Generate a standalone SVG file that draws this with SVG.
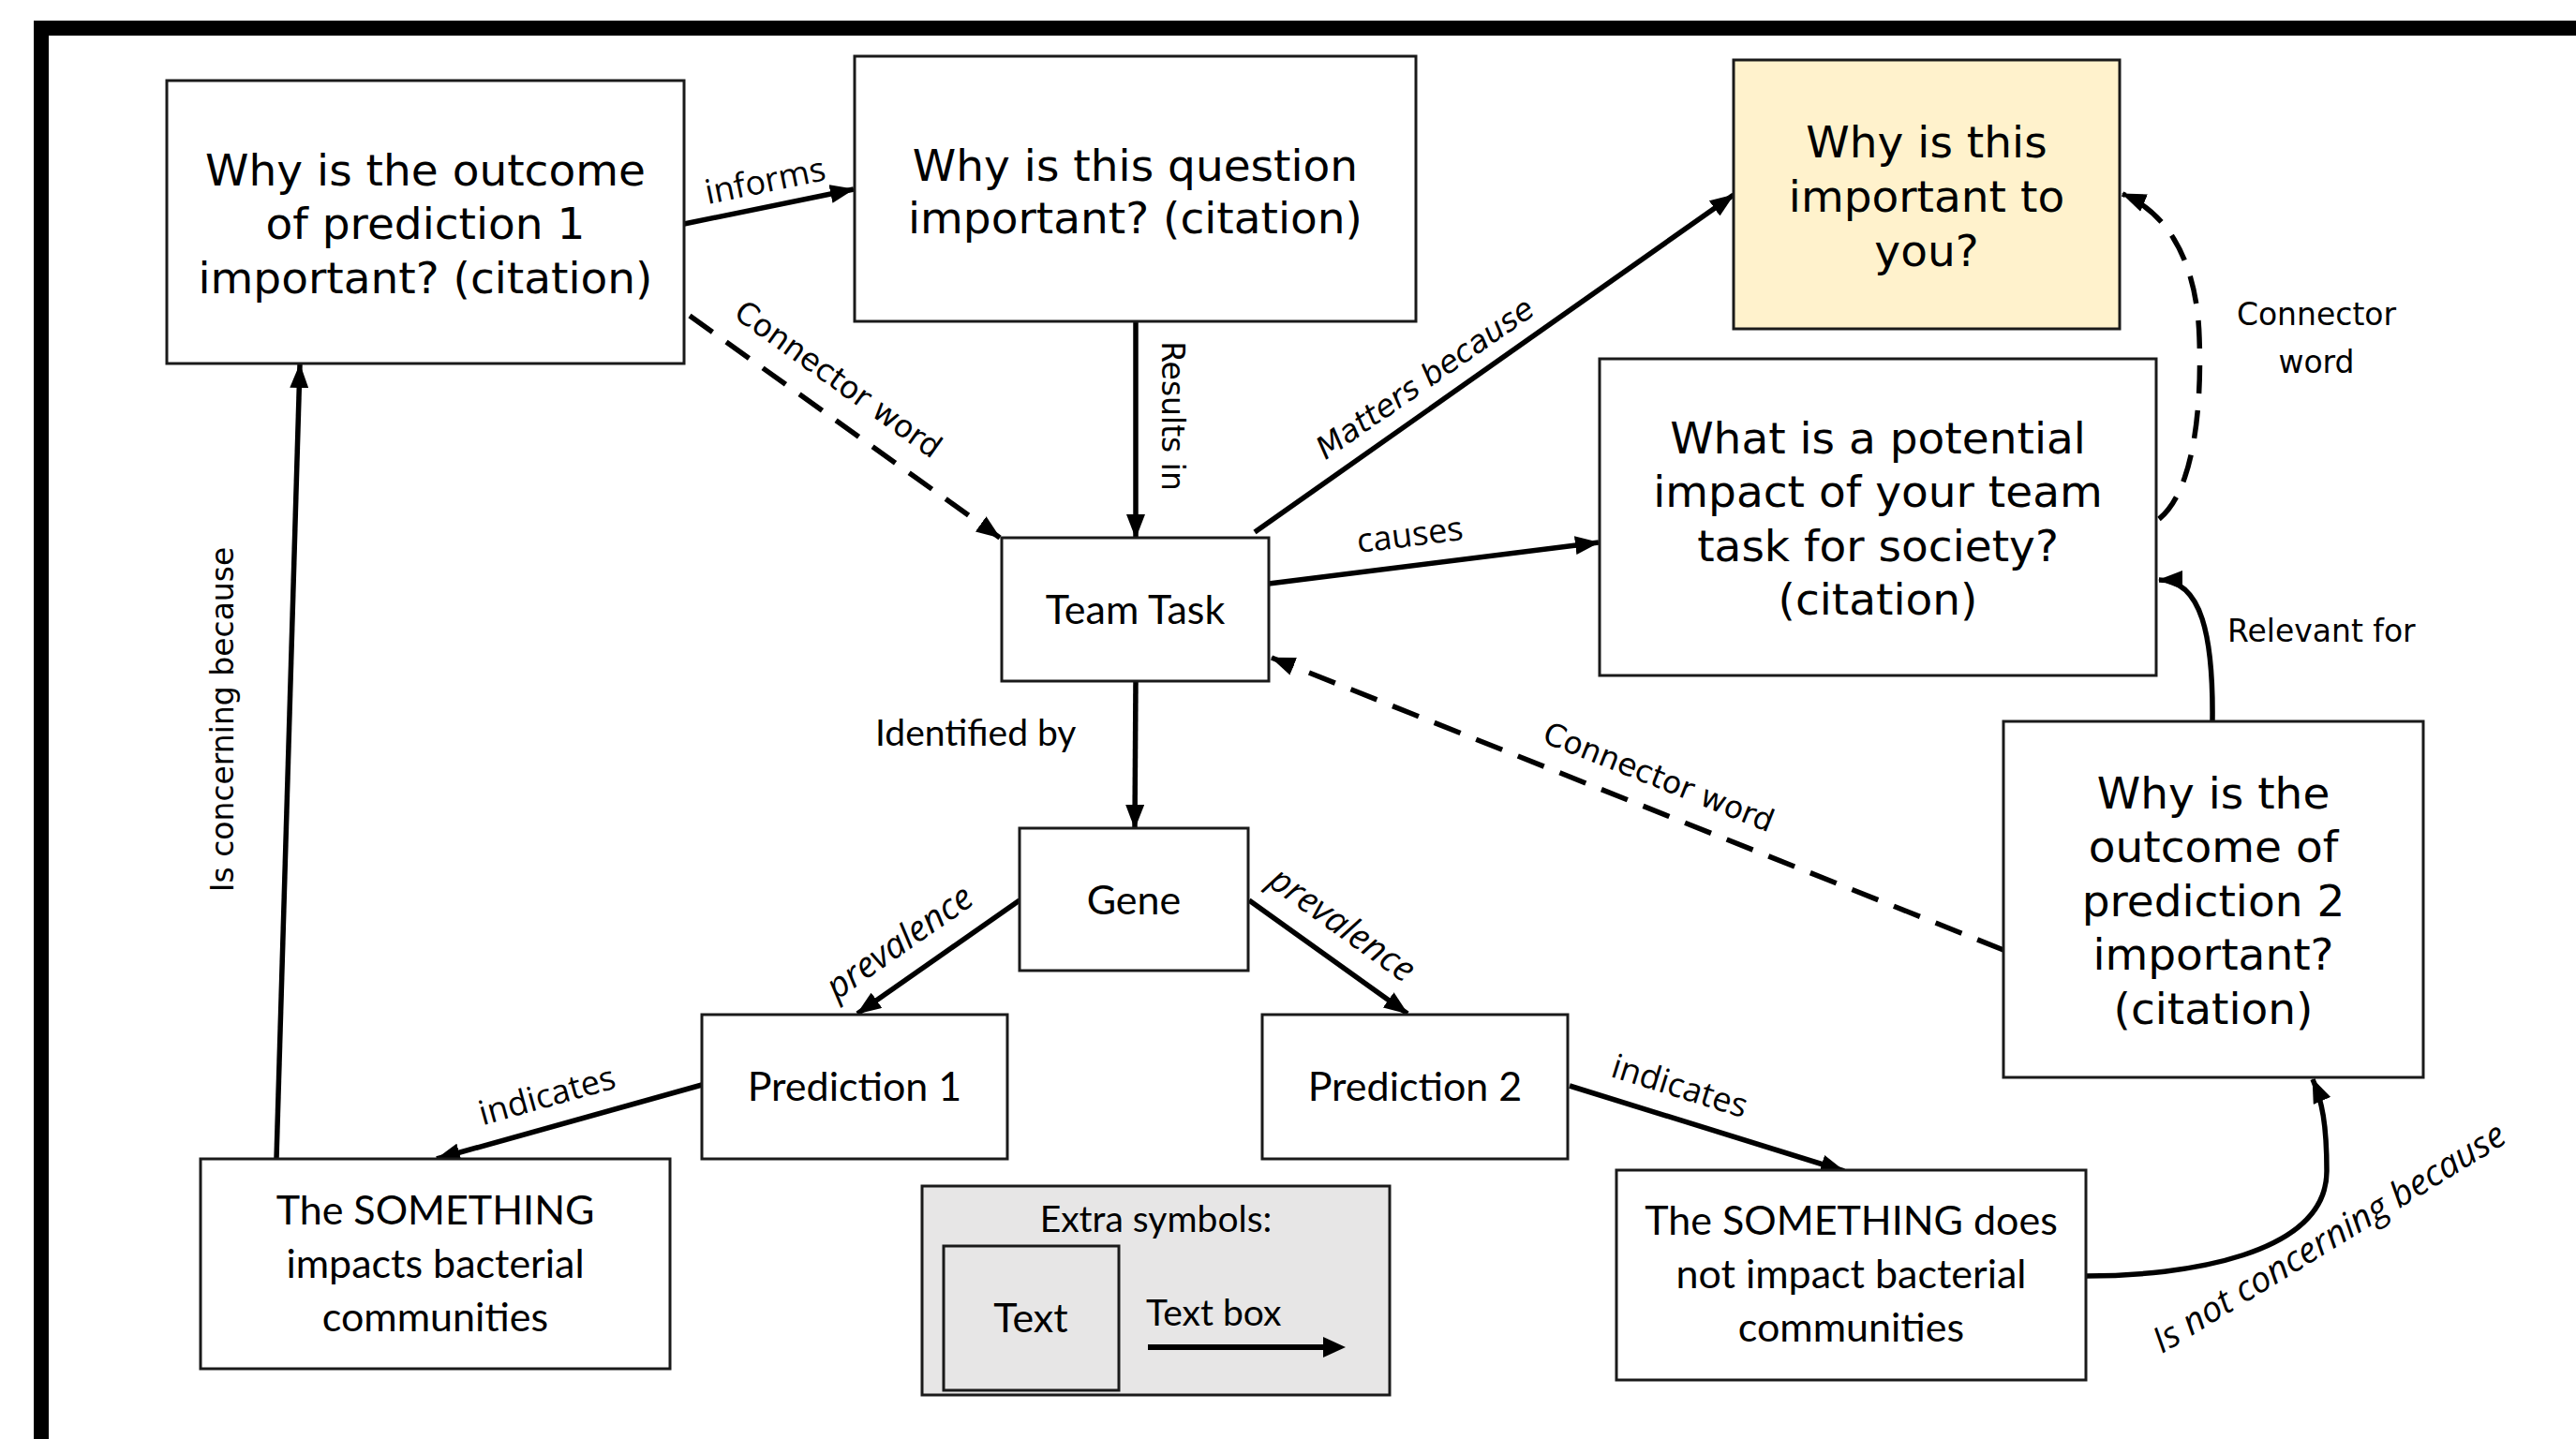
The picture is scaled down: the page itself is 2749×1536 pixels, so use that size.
<svg xmlns="http://www.w3.org/2000/svg" width="2749" height="1536" viewBox="0 0 2749 1536">
<style>
.box{fill:#fff;stroke:#1a1a1a;stroke-width:3}
.yel{fill:#FFF2CC}
.leg{fill:#E7E6E6}
.big{font-family:"DejaVu Sans",Verdana,sans-serif;font-size:47px;text-anchor:middle;fill:#000}
.cal{font-family:Lato,"Open Sans",sans-serif;font-size:43px;text-anchor:middle;fill:#000}
.cals{font-family:Lato,"Open Sans",sans-serif;font-size:39px;fill:#000}
.lbl{font-family:"Open Sans",sans-serif;font-size:36px;text-anchor:middle;fill:#000}
.it{font-style:italic}
.dl{font-family:"DejaVu Sans",Verdana,sans-serif;font-size:33px;text-anchor:middle;fill:#000}
.edge{fill:none;stroke:#000;stroke-width:5.5}
.dash{stroke-dasharray:30 18}
</style>
<defs>
<marker id="ah" markerUnits="userSpaceOnUse" markerWidth="26" markerHeight="20" refX="25" refY="10" orient="auto">
<path d="M0,0 L26,10 L0,20 z" fill="#000"/>
</marker>
</defs>
<rect x="44" y="30" width="2800" height="1600" fill="none" stroke="#000" stroke-width="16"/>

<g id="connectors">
<path class="edge" d="M730,239 L911,202" marker-end="url(#ah)"/>
<path class="edge" d="M1212,343 L1212,574" marker-end="url(#ah)"/>
<path class="edge" d="M1339,568 L1850,208" marker-end="url(#ah)"/>
<path class="edge" d="M1354,623 L1706,579" marker-end="url(#ah)"/>
<path class="edge dash" d="M736,337 L1067,574" marker-end="url(#ah)"/>
<path class="edge dash" d="M2138,1014 L1357,702" marker-end="url(#ah)"/>
<path class="edge" d="M1212,727 L1211,884" marker-end="url(#ah)"/>
<path class="edge" d="M1088,961 L915,1082" marker-end="url(#ah)"/>
<path class="edge" d="M1333,961 L1502,1082" marker-end="url(#ah)"/>
<path class="edge" d="M749,1158 L466,1237" marker-end="url(#ah)"/>
<path class="edge" d="M1675,1159 L1968,1250" marker-end="url(#ah)"/>
<path class="edge" d="M2226,1362 C2330,1362 2483,1340 2483,1250 C2483,1200 2478,1175 2468,1152" marker-end="url(#ah)"/>
<path class="edge" d="M2361,770 C2362,680 2350,619 2304,619" marker-end="url(#ah)"/>
<path class="edge dash" d="M2304,554 C2340,525 2350,440 2347,360 C2345,290 2320,230 2265,207" marker-end="url(#ah)"/>
<path class="edge" d="M295,1237 L320,389" marker-end="url(#ah)"/>

<text class="lbl" transform="translate(819,205) rotate(-11.6)">informs</text>
<text class="dl" transform="translate(1240,444) rotate(90)">Results in</text>
<text class="dl it" transform="translate(1527,413) rotate(-34.8)">Matters because</text>
<text class="lbl" transform="translate(1506,583) rotate(-7.1)">causes</text>
<text class="dl" transform="translate(888,414) rotate(35.6)">Connector word</text>
<text class="dl" transform="translate(1766,840) rotate(21.8)">Connector word</text>
<text class="cals" x="934" y="796">Identified by</text>
<text class="lbl it" style="font-size:38px" transform="translate(967,1016) rotate(-35)">prevalence</text>
<text class="lbl it" style="font-size:38px" transform="translate(1425,997) rotate(35.6)">prevalence</text>
<text class="lbl" transform="translate(587,1181) rotate(-15.6)">indicates</text>
<text class="lbl" transform="translate(1789,1171) rotate(17.3)">indicates</text>
<text class="lbl it" style="font-size:38px" transform="translate(2492,1332) rotate(-31.5)">Is not concerning because</text>
<text class="dl" x="2377" y="685" style="text-anchor:start">Relevant for</text>
<text class="dl" x="2472" y="347">Connector</text>
<text class="dl" x="2472" y="398">word</text>
<text class="dl" transform="translate(249,768) rotate(-90)">Is concerning because</text>
</g>

<g id="node-outcome1">
<rect class="box" x="178" y="86" width="552" height="302"/>
<text class="big" x="454" y="198">Why is the outcome</text>
<text class="big" x="454" y="255">of prediction 1</text>
<text class="big" x="454" y="313">important? (citation)</text>
</g>
<g id="node-question">
<rect class="box" x="912" y="60" width="599" height="283"/>
<text class="big" x="1211.5" y="193">Why is this question</text>
<text class="big" x="1211.5" y="249">important? (citation)</text>
</g>
<g id="node-you">
<rect class="box yel" x="1850" y="64" width="412" height="287"/>
<text class="big" x="2056" y="168">Why is this</text>
<text class="big" x="2056" y="226">important to</text>
<text class="big" x="2056" y="284">you?</text>
</g>
<g id="node-society">
<rect class="box" x="1707" y="383" width="594" height="338"/>
<text class="big" x="2004" y="484">What is a potential</text>
<text class="big" x="2004" y="541">impact of your team</text>
<text class="big" x="2004" y="599">task for society?</text>
<text class="big" x="2004" y="656">(citation)</text>
</g>
<g id="node-teamtask">
<rect class="box" x="1069" y="574" width="285" height="153"/>
<text class="cal" x="1211.5" y="666">Team Task</text>
</g>
<g id="node-gene">
<rect class="box" x="1088" y="884" width="244" height="152"/>
<text class="cal" x="1210" y="976">Gene</text>
</g>
<g id="node-pred1">
<rect class="box" x="749" y="1083" width="326" height="154"/>
<text class="cal" x="912" y="1175">Prediction 1</text>
</g>
<g id="node-pred2">
<rect class="box" x="1347" y="1083" width="326" height="154"/>
<text class="cal" x="1510" y="1175">Prediction 2</text>
</g>
<g id="node-impacts">
<rect class="box" x="214" y="1237" width="501" height="224"/>
<text class="cal" x="464.5" y="1307">The SOMETHING</text>
<text class="cal" x="464.5" y="1364">impacts bacterial</text>
<text class="cal" x="464.5" y="1421">communities</text>
</g>
<g id="node-notimpact">
<rect class="box" x="1725" y="1249" width="501" height="224"/>
<text class="cal" x="1975.5" y="1318">The SOMETHING does</text>
<text class="cal" x="1975.5" y="1375">not impact bacterial</text>
<text class="cal" x="1975.5" y="1432">communities</text>
</g>
<g id="node-outcome2">
<rect class="box" x="2138" y="770" width="448" height="380"/>
<text class="big" x="2362" y="863">Why is the</text>
<text class="big" x="2362" y="920">outcome of</text>
<text class="big" x="2362" y="978">prediction 2</text>
<text class="big" x="2362" y="1035">important?</text>
<text class="big" x="2362" y="1093">(citation)</text>
</g>
<g id="node-legend">
<rect class="box leg" x="984" y="1266" width="499" height="223"/>
<text class="cals" x="1233.5" y="1315" style="text-anchor:middle">Extra symbols:</text>
<rect class="box leg" x="1007" y="1330" width="187" height="154"/>
<text class="cal" x="1100" y="1422">Text</text>
<text class="cals" x="1223" y="1415">Text box</text>
<path d="M1225,1438 L1414,1438" stroke="#000" stroke-width="6" fill="none"/>
<path d="M1412,1427 L1436,1438 L1412,1449 z" fill="#000"/>
</g>
</svg>
